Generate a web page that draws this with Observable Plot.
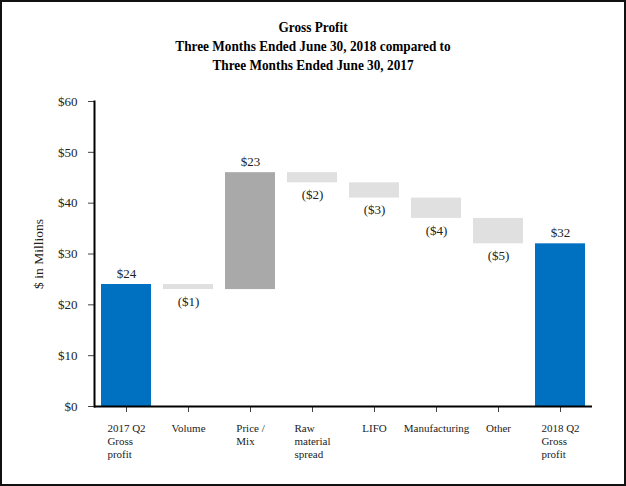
<!DOCTYPE html>
<html>
<head>
<meta charset="utf-8">
<script src="https://cdn.jsdelivr.net/npm/d3@7"></script>
<script src="https://cdn.jsdelivr.net/npm/@observablehq/plot@0.6"></script>
<style>
  html, body { margin: 0; padding: 0; background: #fff; }
  #frame { position: relative; width: 626px; height: 486px; box-sizing: border-box; border: 2px solid #111; background: #fff; overflow: hidden; }
  #title { height: 86px; box-sizing: border-box; padding-top: 16px; text-align: center; font-family: "Liberation Serif", "Times New Roman", serif; font-weight: bold; font-size: 15px; line-height: 19px; color: #000; transform: scaleX(0.885); transform-origin: 50% 0; }
  #chart svg { display: block; }
</style>
</head>
<body>
<div id="frame">
  <div id="title">Gross Profit<br>Three Months Ended June 30, 2018 compared to<br>Three Months Ended June 30, 2017</div>
  <div id="chart"></div>
</div>
<script>
// ---- data ----
const categories = ["2017 Q2 Gross profit", "Volume", "Price / Mix", "Raw material spread", "LIFO", "Manufacturing", "Other", "2018 Q2 Gross profit"];
const categoryLines = [["2017 Q2", "Gross", "profit"], ["Volume"], ["Price /", "Mix"], ["Raw", "material", "spread"], ["LIFO"], ["Manufacturing"], ["Other"], ["2018 Q2", "Gross", "profit"]];
const changes = [24, -1, 23, -2, -3, -4, -5, 32];
const kinds = ["total", "decrease", "increase", "decrease", "decrease", "decrease", "decrease", "total"];
const valueLabels = ["$24", "($1)", "$23", "($2)", "($3)", "($4)", "($5)", "$32"];
const yTicks = [0, 10, 20, 30, 40, 50, 60];

// ---- build waterfall table ----
let running = 0;
const rows = categories.map((c, i) => {
  let lo, hi;
  if (kinds[i] === "total") { lo = 0; hi = changes[i]; running = changes[i]; }
  else { const next = running + changes[i]; lo = Math.min(running, next); hi = Math.max(running, next); running = next; }
  return { cat: c, lo, hi, kind: kinds[i], label: valueLabels[i] };
});

const fillOf = { total: "#0070C0", increase: "#A9A9A9", decrease: "#E0E0E0" };
const serif = "'Liberation Serif', 'Times New Roman', serif";
const xFont = 11;

// measure multi-line x labels so each block is centred with left-aligned lines
const ctx = document.createElement("canvas").getContext("2d");
ctx.font = xFont + "px 'Liberation Serif'";
const blockWidth = categoryLines.map(lines => Math.max(...lines.map(l => ctx.measureText(l).width)));

const xLabelMarks = categories.map((c, i) => Plot.text([c], {
  x: d => d,
  frameAnchor: "bottom",
  dy: 17,
  lineAnchor: "top",
  textAnchor: "start",
  dx: -blockWidth[i] / 2,
  text: () => categoryLines[i].join("\n"),
  lineHeight: 1.15,
  fontSize: xFont,
  fontFamily: serif,
  fill: "#222"
}));

const chart = Plot.plot({
  width: 622,
  height: 396,
  marginLeft: 92,
  marginRight: 32,
  marginTop: 13,
  marginBottom: 78,
  style: { fontFamily: serif, background: "#fff", color: "#222" },
  x: { type: "band", domain: categories, paddingInner: 0.2, paddingOuter: 0.1, axis: null },
  y: { domain: [0, 60], axis: null },
  color: { type: "identity" },
  marks: [
    Plot.barY(rows, { x: "cat", y1: "lo", y2: "hi", fill: d => fillOf[d.kind] }),
    Plot.axisY({ ticks: yTicks, tickFormat: d => "$" + d, tickSize: 6, tickPadding: 11, fontSize: 13, fontFamily: serif, fontVariant: "normal", label: null, stroke: "#444", fill: "#222" }),
    Plot.axisX({ tickSize: 6, tickFormat: () => "", label: null, stroke: "#444" }),
    Plot.frame({ anchor: "left", stroke: "#000", strokeWidth: 2 }),
    Plot.ruleY([0], { stroke: "#000", strokeWidth: 2 }),
    Plot.text(rows.filter(d => d.kind !== "decrease"), { x: "cat", y: "hi", text: "label", dy: -7, lineAnchor: "bottom", fontSize: 13, fontFamily: serif, fill: "#222" }),
    Plot.text(rows.filter(d => d.kind === "decrease"), { x: "cat", y: "lo", text: "label", dy: 7, lineAnchor: "top", fontSize: 13, fontFamily: serif, fill: "#222" }),
    Plot.text(["$ in Millions"], { frameAnchor: "left", dx: -56, rotate: -90, textAnchor: "middle", text: d => d, fontSize: 13.5, fontFamily: serif, fill: "#222" }),
    ...xLabelMarks
  ]
});
document.getElementById("chart").appendChild(chart);
</script>
</body>
</html>
